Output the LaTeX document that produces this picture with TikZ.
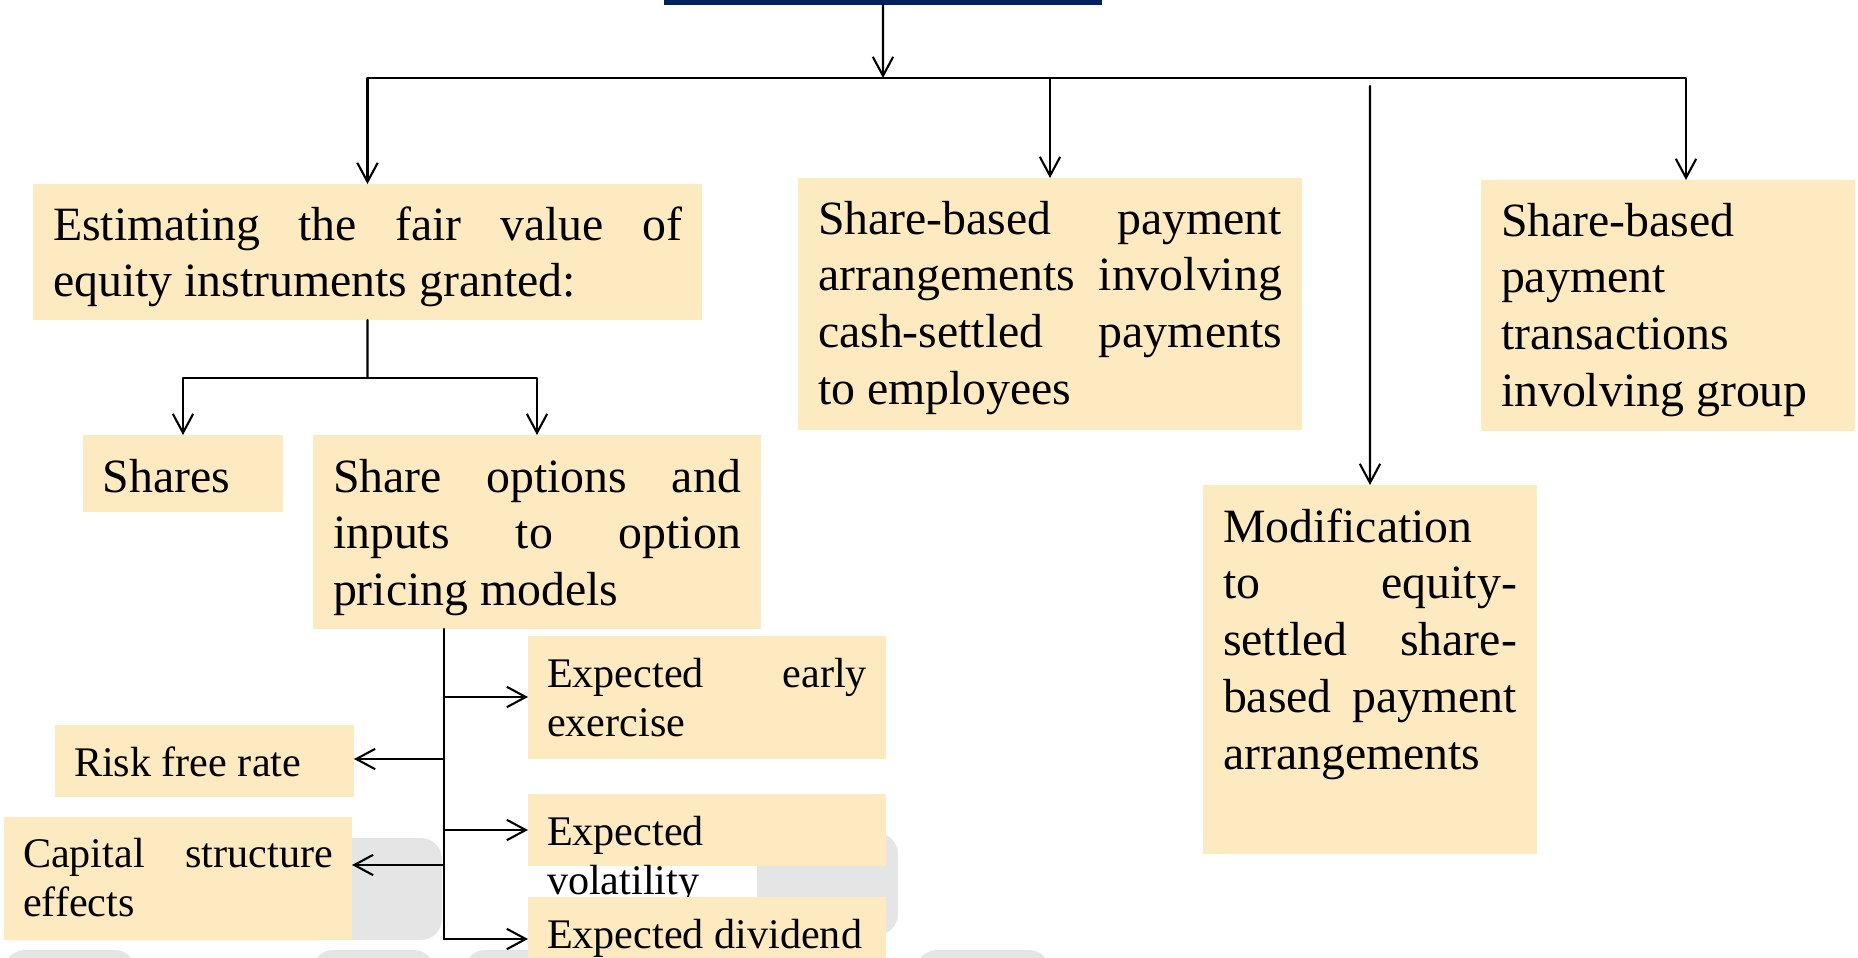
\documentclass[tikz,border=0pt]{standalone}
\usepackage{fontspec}
\setmainfont{Liberation Serif}
\usetikzlibrary{arrows.meta}
\definecolor{cardfill}{RGB}{254,234,193}
\definecolor{titleblue}{RGB}{0,32,96}
\definecolor{ghost}{RGB}{229,229,229}
\tolerance=10000
\hyphenpenalty=10000
\exhyphenpenalty=10000
\hbadness=10000

\begin{document}
\begin{tikzpicture}[line cap=round,line join=round,>={Straight Barb[length=5.4pt,width=5.8pt]},x=1.0cm,y=1.0cm,
        card/.style={fill=cardfill,anchor=north west,inner xsep=0.2cm,inner ysep=0pt,outer sep=0pt,align=justify,font=\fontsize{13.6pt}{16.2pt}\selectfont,text height=0.56cm},
        small/.style={inner xsep=0.19cm,font=\fontsize{12pt}{14.2pt}\selectfont,text height=0.51cm},
        wire/.style={line width=0.6pt}]
        \clip(0,0) rectangle (18.58,9.57);
        \fill [ghost,rounded corners=6pt] (3.00,0.17) rectangle (4.42,1.19);
        \fill [ghost,rounded corners=6pt] (7.57,0.22) rectangle (8.98,1.24);
        \fill [ghost,rounded corners=6pt] (0.04,-0.40) rectangle (1.36,0.07);
        \fill [ghost,rounded corners=6pt] (3.12,-0.40) rectangle (4.35,0.07);
        \fill [ghost,rounded corners=6pt] (4.64,-0.40) rectangle (6.00,0.07);
        \fill [ghost,rounded corners=6pt] (9.16,-0.40) rectangle (10.50,0.07);
        \node [fill=titleblue,anchor=south west,minimum width=4.38cm,minimum height=0.5cm,inner sep=0pt,outer sep=0pt] (title) at (6.64,9.52) {};
        \node [card,text width=6.29cm,text depth=0.80cm] (est) at (0.33,7.73) {Estimating the fair value of\linebreak equity instruments granted:};
        \node [card,text width=4.64cm,text depth=1.96cm] (cash) at (7.98,7.79) {Share-based payment\linebreak arrangements involving\linebreak cash-settled payments\linebreak to employees};
        \node [card,text width=3.34cm,text depth=1.95cm] (grp) at (14.81,7.77) {Share-based\linebreak payment\linebreak transactions\linebreak involving group};
        \node [card,text width=2.94cm,text height=0.57cm,text depth=3.12cm] (mod) at (12.03,4.72) {Modification\linebreak to equity-\linebreak settled share-\linebreak based payment\linebreak arrangements};
        \node [card,text width=1.60cm,text height=0.57cm,text depth=0.20cm] (shares) at (0.83,5.22) {Shares};
        \node [card,text width=4.08cm,text height=0.57cm,text depth=1.37cm] (opts) at (3.13,5.22) {Share options and\linebreak inputs to option\linebreak pricing models};
        \node [card,small,text width=3.20cm,text depth=0.72cm] (early) at (5.28,3.21) {Expected early\linebreak exercise};
        \node [card,small,text width=2.61cm,text depth=0.21cm] (risk) at (0.55,2.32) {Risk free rate};
        \node [card,small,text width=3.10cm,text height=0.50cm,text depth=0.73cm] (cap) at (0.04,1.40) {Capital structure\linebreak effects};
        \node [card,small,text width=3.20cm,text depth=0.21cm] (vol) at (5.28,1.63) {Expected\linebreak volatility};
        \node [card,small,text width=3.20cm,text depth=0.72cm] (dvd) at (5.28,0.60) {Expected dividend};
        \coordinate (hub) at (8.83,8.79);
        \coordinate (grpin) at (16.86,7.77);
        \coordinate (modtop) at (13.70,8.71);
        \coordinate (fork) at (3.675,5.79);
        \coordinate (t1) at (4.44,2.60);
        \coordinate (t2) at (4.44,1.98);
        \coordinate (t3) at (4.44,1.27);
        \coordinate (t4) at (4.44,0.92);
        \coordinate (t5) at (4.44,0.18);
        \draw [wire,->] (title.south) -- (hub);
        \draw [wire,->] (hub) -| (est.north);
        \draw [wire,->] (hub) -| (cash.north);
        \draw [wire,->] (hub) -| (grpin);
        \draw [wire,->] (modtop) -- (mod.north);
        \draw [wire] (est.south) -- (fork);
        \draw [wire,->] (fork) -| (shares.north);
        \draw [wire,->] (fork) -| (opts.north);
        \draw [wire] (t1 |- opts.south) -- (t5);
        \draw [wire,->] (t1) -- (t1 -| early.west);
        \draw [wire,->] (t2) -- (t2 -| risk.east);
        \draw [wire,->] (t3) -- (t3 -| vol.west);
        \draw [wire,->] (t4) -- (t4 -| cap.east);
        \draw [wire,->] (t5) -- (t5 -| dvd.west);
\end{tikzpicture}
\end{document}
